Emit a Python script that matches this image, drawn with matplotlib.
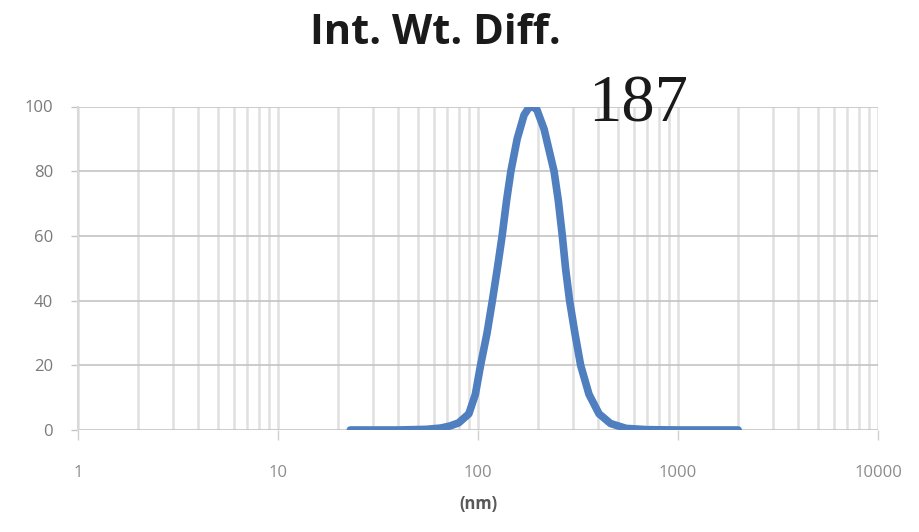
import numpy as np
import matplotlib
matplotlib.use('Agg')
import matplotlib.pyplot as plt
from matplotlib.ticker import LogLocator, FixedLocator, NullFormatter

# size distribution (nm, intensity)
size_nm = [23, 40, 55, 65, 72, 80, 90, 97, 103, 111, 118, 125, 132, 139,
           146, 157, 170, 179, 187, 197, 214, 240, 252, 264, 274, 287,
           305, 326, 359, 403, 460, 550, 700, 1000, 1500, 2000]
intensity = [0, 0, 0.2, 0.6, 1.2, 2.2, 5, 11, 20, 30, 40, 50, 60, 71,
             80, 90, 97.4, 99.5, 100, 99, 93, 80, 71, 60, 50, 40,
             30, 20, 11, 5, 2, 0.5, 0.1, 0, 0, 0]

title = 'Int. Wt. Diff.'
peak_label = '187'
x_ticks = [1, 10, 100, 1000, 10000]
x_ticklabels = ['1', '10', '100', '1000', '10000']
y_ticks = [0, 20, 40, 60, 80, 100]

fig = plt.figure(figsize=(9.19, 5.32), dpi=100)
ax = fig.add_axes([78 / 919, 1 - 430 / 532, 800 / 919, 323.5 / 532])

ax.plot(size_nm, intensity, color='#4f7fbf', lw=5.5, solid_capstyle='round',
        solid_joinstyle='round', zorder=3)

ax.set_xscale('log')
ax.set_xlim(1, 10000)
ax.set_ylim(0, 100)

ax.xaxis.set_major_locator(FixedLocator(x_ticks))
ax.set_xticklabels(x_ticklabels)
ax.xaxis.set_minor_locator(LogLocator(base=10, subs=np.arange(2, 10)))
ax.xaxis.set_minor_formatter(NullFormatter())
ax.set_yticks(y_ticks)

ax.grid(True, which='major', axis='y', color='#c4c4c4', lw=1.2)
ax.grid(True, which='both', axis='x', color='#e0e0e0', lw=1.8)
ax.set_axisbelow(True)

for s in ['top', 'right', 'bottom']:
    ax.spines[s].set_visible(False)
ax.spines['left'].set_color('#d9d9d9')
ax.spines['left'].set_linewidth(1.5)

ax.tick_params(axis='x', which='major', length=7, width=1, color='#d0d0d0',
               pad=18, labelsize=12, labelcolor='#8c8c8c')
ax.tick_params(axis='x', which='minor', length=0)
ax.tick_params(axis='y', length=5, width=1, color='#c4c4c4', pad=13,
               labelsize=12, labelcolor='#7a7a7a')
for lab in ax.get_xticklabels() + ax.get_yticklabels():
    lab.set_family('Open Sans')

ax.set_xlabel('(nm)', fontsize=12, color='#595959', family='Open Sans',
              fontweight='bold', labelpad=10)

fig.text(435 / 919, 1 - 34 / 532, title, ha='center', va='center',
         fontsize=30, fontweight='bold', family='Open Sans', color='#1a1a1a')
fig.text(638 / 919, 1 - 122 / 532, peak_label, ha='center', va='baseline',
         fontsize=48, family='Liberation Serif', color='#1a1a1a')

fig.savefig('out.png', dpi=100)
